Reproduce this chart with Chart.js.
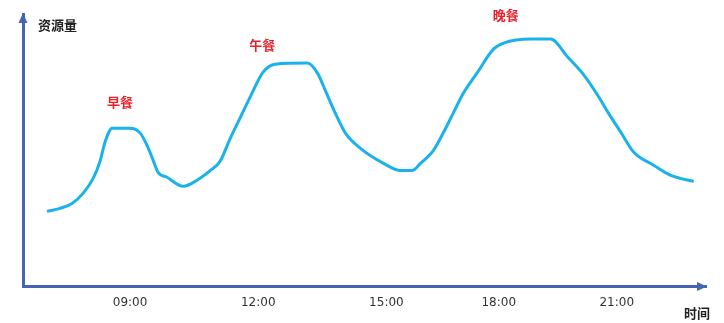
<!DOCTYPE html>
<html>
<head>
<meta charset="utf-8">
<script src="https://cdn.jsdelivr.net/npm/chart.js@4/dist/chart.umd.min.js"></script>
<style>
  html, body { margin: 0; padding: 0; background: #ffffff; }
  #wrap { width: 724px; height: 323px; position: relative; }
</style>
</head>
<body>
<div id="wrap"><canvas id="c"></canvas></div>
<script>
// time of day (hours) and resource amount (relative units)
const hours = [6.95, 7.27, 7.57, 7.84, 8.09, 8.26, 8.38, 8.56, 9.0, 9.25, 9.44, 9.57, 9.69, 9.91,
  10.31, 10.65, 10.98, 11.22, 11.47, 11.72, 11.96, 12.28, 12.58, 13.37, 13.62, 13.81, 14.06,
  14.31, 14.68, 15.25, 15.67, 15.96, 16.16, 16.48, 16.73, 16.98, 17.22, 17.57, 17.96, 18.21,
  18.88, 19.37, 19.79, 20.19, 20.53, 20.78, 21.1, 21.42, 21.91, 22.33, 22.9];
const resource = [27.6, 28.7, 30.5, 34.2, 39.7, 46.0, 52.9, 58.1, 58.1, 56.3, 51.1, 46.3, 41.9, 40.1,
  36.8, 39.0, 42.6, 46.0, 54.4, 62.1, 69.5, 78.7, 81.6, 82.0, 78.3, 72.1, 63.6,
  56.3, 50.7, 45.2, 42.6, 42.6, 45.2, 50.0, 56.6, 64.0, 71.0, 78.7, 87.1, 89.3,
  90.8, 90.8, 84.2, 77.6, 70.2, 64.0, 56.6, 49.3, 44.5, 40.8, 38.6];
// x-axis tick labels and where they sit on the time axis
const tickLabels = ['09:00', '12:00', '15:00', '18:00', '21:00'];
const tickValues = [9, 12.16, 15.32, 18.09, 21];
// meal annotations (text, anchored in data units)
const mealLabels = ['早餐', '午餐', '晚餐'];
const mealHours = [8.75, 12.26, 18.26];
const mealValues = [67.6, 88.6, 99.6];
const yAxisTitle = '资源量';
const xAxisTitle = '时间';

const AXIS_COLOR = '#4763b3';

const decorPlugin = {
  id: 'decor',
  afterDraw(chart) {
    const ctx = chart.ctx;
    const a = chart.chartArea;
    const xs = chart.scales.x, ys = chart.scales.y;
    ctx.save();
    // arrow heads
    ctx.fillStyle = AXIS_COLOR;
    ctx.beginPath();
    ctx.moveTo(a.left, a.top - 1);
    ctx.lineTo(a.left - 4.5, a.top + 9);
    ctx.lineTo(a.left + 4.5, a.top + 9);
    ctx.closePath();
    ctx.fill();
    ctx.beginPath();
    ctx.moveTo(a.right + 1, a.bottom);
    ctx.lineTo(a.right - 9, a.bottom - 4.5);
    ctx.lineTo(a.right - 9, a.bottom + 4.5);
    ctx.closePath();
    ctx.fill();
    // axis titles
    ctx.fillStyle = '#222222';
    ctx.font = 'bold 13px "Noto Sans CJK SC", sans-serif';
    ctx.textBaseline = 'middle';
    ctx.textAlign = 'left';
    ctx.fillText(yAxisTitle, a.left + 15, a.top + 11);
    ctx.textAlign = 'center';
    ctx.fillText(xAxisTitle, a.right - 9, chart.height - 10);
    // meal labels
    ctx.fillStyle = '#e8202a';
    ctx.font = 'bold 13px "Noto Sans CJK SC", sans-serif';
    for (let i = 0; i < mealLabels.length; i++) {
      ctx.fillText(mealLabels[i], xs.getPixelForValue(mealHours[i]), ys.getPixelForValue(mealValues[i]));
    }
    ctx.restore();
  }
};

new Chart(document.getElementById('c'), {
  type: 'line',
  data: {
    datasets: [{
      data: hours.map((h, i) => ({ x: h, y: resource[i] })),
      borderColor: '#19b2ea',
      borderWidth: 3,
      pointRadius: 0,
      cubicInterpolationMode: 'monotone',
      fill: false
    }]
  },
  options: {
    responsive: true,
    maintainAspectRatio: false,
    animation: false,
    layout: { padding: { left: 23, right: 18, top: 14, bottom: 4 } },
    plugins: { legend: { display: false }, tooltip: { enabled: false } },
    scales: {
      x: {
        type: 'linear',
        min: 6.36,
        max: 23.2,
        grid: { display: false, drawTicks: false },
        border: { display: true, color: AXIS_COLOR, width: 3 },
        afterBuildTicks: axis => { axis.ticks = tickValues.map(v => ({ value: v })); },
        ticks: {
          autoSkip: false,
          maxRotation: 0,
          padding: 9,
          color: '#333333',
          font: { family: '"DejaVu Sans", sans-serif', size: 12 },
          callback: (v, i) => tickLabels[i]
        }
      },
      y: {
        min: 0,
        max: 100,
        grid: { display: false, drawTicks: false },
        border: { display: true, color: AXIS_COLOR, width: 3 },
        ticks: { display: false }
      }
    }
  },
  plugins: [decorPlugin]
});
</script>
</body>
</html>
